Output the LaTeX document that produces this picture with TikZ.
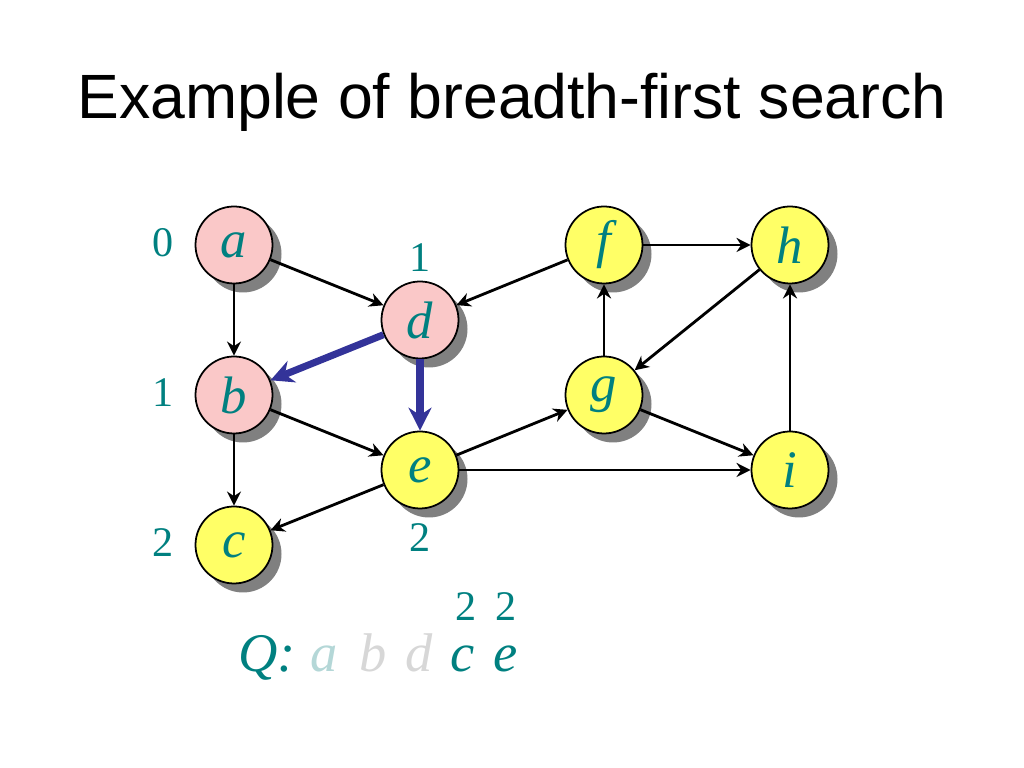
\documentclass[tikz,border=0pt]{standalone}
\usepackage{fontspec}
\setmainfont{Liberation Serif}
\newfontfamily\titlefont{Liberation Sans}
\usetikzlibrary{shadows,arrows.meta}
\definecolor{bfsteal}{RGB}{0,128,128}
\definecolor{bfspink}{RGB}{250,200,200}
\definecolor{bfsyellow}{RGB}{255,255,102}
\definecolor{bfsblue}{RGB}{51,51,153}
\definecolor{qdone}{RGB}{180,215,215}
\definecolor{qgone}{RGB}{215,215,215}
\tikzset{
  vertex/.style={circle, draw=black, line width=0.5pt, minimum size=0.77cm, inner sep=0pt,
    font=\fontsize{15}{15}\selectfont\itshape, text=bfsteal,
    drop shadow={shadow xshift=0.09cm, shadow yshift=-0.09cm, fill=black!50, opacity=1}},
  seen/.style={vertex, fill=bfspink},
  unseen/.style={vertex, fill=bfsyellow},
  graphedge/.style={-{Stealth[length=4pt,width=4pt]}, line width=0.8pt},
  treeedge/.style={-{Stealth[length=6.5pt,width=6.5pt]}, line width=2pt, draw=bfsblue},
  dist/.style={font=\fontsize{12}{12}\selectfont, text=bfsteal},
  qitem/.style={font=\fontsize{15.5}{15.5}\selectfont\itshape, anchor=base}
}

\begin{document}
\begin{tikzpicture}
  \useasboundingbox (0,0) rectangle (10.24,7.68);
  \node[font=\titlefont\fontsize{17.8}{17.8}\selectfont] (title) at (5.12,6.66) {Example of breadth-first search};

  % vertices already dequeued or discovered
  \foreach \n/\x/\y in {a/2.34/5.23, b/2.34/3.73, d/4.20/4.48} {
    \node[seen] (\n) at (\x,\y) {\n};
  }
  \foreach \n/\x/\y in {c/2.34/2.23, e/4.20/2.98, f/6.04/5.23, g/6.04/3.73, h/7.90/5.23, i/7.90/2.98} {
    \node[unseen] (\n) at (\x,\y) {\n};
  }

  % distances
  \node[dist] (da) at (1.63,5.25) {0};
  \node[dist] (db) at (1.63,3.75) {1};
  \node[dist] (dc) at (1.63,2.25) {2};
  \node[dist] (dd) at (4.20,5.10) {1};
  \node[dist] (de) at (4.20,2.30) {2};

  % edges
  \foreach \s/\t in {a/d, a/b, f/d, b/e, b/c, e/c, e/g, e/i, g/f, f/h, h/g, g/i, i/h} {
    \draw[graphedge] (\s) -- (\t);
  }
  \draw[treeedge] (d) -- (b);
  \draw[treeedge] (d) -- (e);

  % queue
  \node[qitem, text=bfsteal] (q) at (2.67,0.96) {Q:};
  \node[qitem, text=qdone] (qa) at (3.24,0.96) {a};
  \node[qitem, text=qgone] (qb) at (3.73,0.96) {b};
  \node[qitem, text=qgone] (qd) at (4.19,0.96) {d};
  \node[qitem, text=bfsteal] (qc) at (4.63,0.96) {c};
  \node[qitem, text=bfsteal] (qe) at (5.06,0.96) {e};
  \node[dist] (qdc) at (4.66,1.61) {2};
  \node[dist] (qde) at (5.06,1.61) {2};
\end{tikzpicture}
\end{document}
